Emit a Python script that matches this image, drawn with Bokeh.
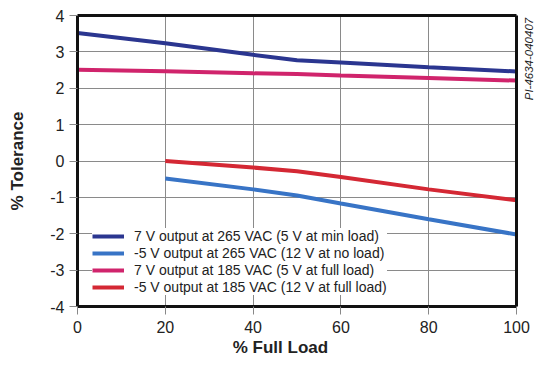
import math
from bokeh.plotting import figure
from bokeh.models import Range1d, FixedTicker, Legend, LegendItem, LinearAxis
from bokeh.embed import file_html
from bokeh.resources import INLINE

# ---- data ----
load_full = [0, 20, 40, 50, 60, 80, 100]
load_part = [20, 40, 50, 60, 80, 100]
v7_265 = [3.52, 3.24, 2.92, 2.77, 2.71, 2.58, 2.46]
v7_185 = [2.51, 2.47, 2.41, 2.39, 2.35, 2.28, 2.21]
vm5_265 = [-0.48, -0.78, -0.95, -1.17, -1.60, -2.02]
vm5_185 = [0.0, -0.18, -0.28, -0.44, -0.78, -1.08]
x_ticks = [0, 20, 40, 60, 80, 100]
y_ticks = [-4, -3, -2, -1, 0, 1, 2, 3, 4]
labels = [
    "7 V output at 265 VAC (5 V at min load)",
    "-5 V output at 265 VAC (12 V at no load)",
    "7 V output at 185 VAC (5 V at full load)",
    "-5 V output at 185 VAC (12 V at full load)",
]
colors = ["#2b3690", "#3874c6", "#d0246c", "#d42834"]
x_title = "% Full Load"
y_title = "% Tolerance"
doc_id = "PI-4634-040407"

FONT = "Liberation Sans"
NBSP = "\u00a0"

p = figure(width=556, height=376, output_backend="svg", toolbar_location=None,
           x_range=Range1d(0, 100), y_range=Range1d(-4, 4))
p.min_border_left = 77
p.min_border_right = 40
p.min_border_top = 15
p.min_border_bottom = 70
p.background_fill_color = "white"
p.border_fill_color = "white"
p.outline_line_color = None

def style_main(ax):
    ax.axis_line_color = "#111111"
    ax.axis_line_width = 3
    ax.major_tick_line_color = "#888888"
    ax.major_tick_line_width = 1
    ax.major_tick_in = 0
    ax.major_tick_out = 8
    ax.minor_tick_line_color = None
    ax.major_label_text_font = FONT
    ax.major_label_text_font_size = "16px"
    ax.major_label_text_color = "#222222"
    ax.axis_label_text_font = FONT
    ax.axis_label_text_font_size = "17px"
    ax.axis_label_text_font_style = "bold"
    ax.axis_label_text_color = "#222222"

xa = p.xaxis[0]
ya = p.yaxis[0]
style_main(xa)
style_main(ya)
xa.ticker = FixedTicker(ticks=x_ticks)
ya.ticker = FixedTicker(ticks=y_ticks)
xa.major_label_standoff = 6
ya.major_label_standoff = 5
ya.major_label_overrides = {t: str(t) for t in y_ticks}
ya.axis_label = y_title
ya.axis_label_standoff = 20
# title sits a little left of the frame centre in the original
xa.axis_label = x_title + NBSP * 7
xa.axis_label_standoff = 2

def frame_axis(ax):
    ax.ticker = FixedTicker(ticks=[])
    ax.axis_line_color = "#111111"
    ax.axis_line_width = 3
    ax.major_tick_line_color = None
    ax.minor_tick_line_color = None
    ax.major_tick_out = 0
    ax.major_tick_in = 0
    return ax

top_ax = frame_axis(LinearAxis())
p.add_layout(top_ax, "above")

right_ax = frame_axis(LinearAxis())
right_ax.axis_label = NBSP * 19 + doc_id
right_ax.axis_label_text_font = FONT
right_ax.axis_label_text_font_size = "11.5px"
right_ax.axis_label_text_color = "#222222"
right_ax.axis_label_standoff = 12
right_ax.axis_label_orientation = math.pi / 2
p.add_layout(right_ax, "right")

p.xgrid.ticker = FixedTicker(ticks=x_ticks)
p.ygrid.ticker = FixedTicker(ticks=y_ticks)
for g in (p.xgrid[0], p.ygrid[0]):
    g.grid_line_color = "#8a8a8a"
    g.grid_line_width = 1

r1 = p.line(load_full, v7_265, line_color=colors[0], line_width=4)
r2 = p.line(load_part, vm5_265, line_color=colors[1], line_width=4)
r3 = p.line(load_full, v7_185, line_color=colors[2], line_width=4)
r4 = p.line(load_part, vm5_185, line_color=colors[3], line_width=4)

legend = Legend(items=[LegendItem(label=labels[i], renderers=[r]) for i, r in enumerate([r1, r2, r3, r4])],
                location=(15, 11))
legend.margin = 0
legend.padding = 6
legend.border_line_color = None
legend.background_fill_color = "white"
legend.background_fill_alpha = 1
legend.label_text_font = FONT
legend.label_text_font_size = "14px"
legend.label_text_color = "#222222"
legend.label_text_line_height = 1.0
legend.glyph_width = 32
legend.glyph_height = 14
legend.label_height = 14
legend.spacing = 1
legend.label_standoff = 10
p.add_layout(legend, "center")

open("out.html", "w").write(file_html(p, INLINE))
